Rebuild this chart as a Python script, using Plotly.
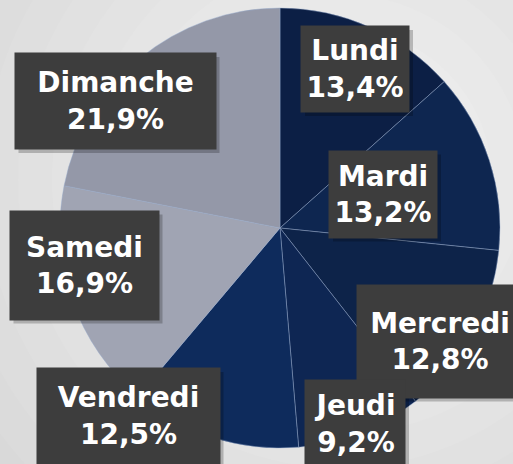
import plotly.graph_objects as go

# donnees
jours = ['Lundi', 'Mardi', 'Mercredi', 'Jeudi', 'Vendredi', 'Samedi', 'Dimanche']
parts = [13.4, 13.2, 12.8, 9.2, 12.5, 16.9, 21.9]
couleurs = ['#0c1f45', '#0e2650', '#0d2349', '#0e2653', '#0e2b5c', '#a0a4b3', '#9498a8']

# position des etiquettes (centre x, centre y, largeur, hauteur en pixels)
pos_etiquettes = {
    'Lundi': (355, 69, 96, 74),
    'Mardi': (383, 194, 96, 75),
    'Mercredi': (440, 341, 154, 101),
    'Jeudi': (355, 424, 88, 76),
    'Vendredi': (128, 416, 171, 84),
    'Samedi': (84, 265, 137, 97),
    'Dimanche': (115, 101, 189, 84),
}

W, H = 513, 464
PAD = 6

fig = go.Figure()
fig.add_trace(go.Pie(
    labels=jours,
    values=parts,
    sort=False,
    direction='clockwise',
    rotation=0,
    textinfo='none',
    hoverinfo='label+percent',
    marker=dict(colors=couleurs, line=dict(color='rgba(150,170,205,0.55)', width=0.8)),
    domain=dict(x=[60 / W, 500 / W], y=[1 - 448 / H, 1 - 8 / H]),
    showlegend=False,
))

# fond en degrade (cercles concentriques)
shapes = []
cx, cy = 340, 180
for i in range(14):
    r = 560 - i * 34
    g = 0xd3 + i * 2
    shapes.append(dict(type='circle', xref='paper', yref='paper', layer='below',
                       x0=(cx - r) / W, x1=(cx + r) / W, y0=1 - (cy + r) / H, y1=1 - (cy - r) / H,
                       fillcolor='rgb(%d,%d,%d)' % (g, g, g), line=dict(width=0)))

annotations = []
for jour, val in zip(jours, parts):
    x, y, w, h = pos_etiquettes[jour]
    # ombre portee des boites
    bw, bh = w / 2 + PAD, h / 2 + PAD
    shapes.append(dict(type='rect', xref='paper', yref='paper', layer='above',
                       x0=(x - bw + 4) / W, x1=(x + bw + 4) / W,
                       y0=1 - (y + bh + 4) / H, y1=1 - (y - bh + 4) / H,
                       fillcolor='rgba(0,0,0,0.22)', line=dict(width=0)))
    texte = '<b>%s<br>%s%%</b>' % (jour, ('%.1f' % val).replace('.', ','))
    annotations.append(dict(text=texte, bgcolor='#3d3d3d',
                            xref='paper', yref='paper', x=x / W, y=1 - y / H,
                            xanchor='center', yanchor='middle', showarrow=False,
                            width=w, height=h, borderpad=PAD, align='center', valign='middle',
                            font=dict(family='DejaVu Sans', size=28, color='white')))

fig.update_layout(
    width=W, height=H,
    margin=dict(l=0, r=0, t=0, b=0),
    paper_bgcolor='#d3d3d3',
    plot_bgcolor='rgba(0,0,0,0)',
    shapes=shapes,
    annotations=annotations,
)

fig.write_html('out.html', config={'displayModeBar': False},
               post_script="document.body.style.margin='0px';")
